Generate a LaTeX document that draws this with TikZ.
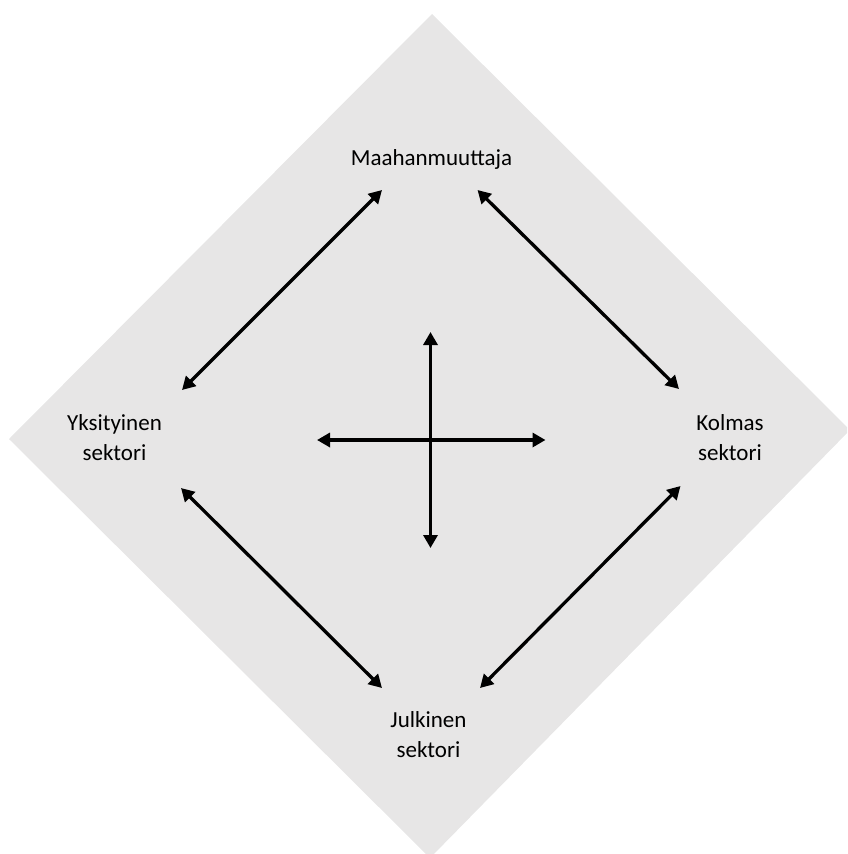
\documentclass[tikz,border=0pt]{standalone}
\usepackage{fontspec}
\setmainfont{Carlito}
\usetikzlibrary{arrows.meta}
\definecolor{bggray}{HTML}{E7E6E6}
\begin{document}
\begin{tikzpicture}[x=1pt,y=-1pt,
  lbl/.style={font=\fontsize{23}{29.5}\selectfont, align=center, inner sep=0pt, anchor=base, text=black},
  dbl/.style={line width=3.3pt, {Triangle[length=13pt,width=14pt]}-{Triangle[length=13pt,width=14pt]}}]
\useasboundingbox (0,0) rectangle (847,854);
\begin{scope}
\clip (0,0) rectangle (847,854);
\fill[bggray] (432,14) -- (850,430) -- (430,858) -- (9,439) -- cycle;
\end{scope}
\node[lbl] (maa) at (431.5,165) {Maahanmuuttaja};
\node[lbl] (yks) at (114.5,460) {Yksityinen\\sektori};
\node[lbl] (kol) at (730,460) {Kolmas\\sektori};
\node[lbl] (jul) at (428.5,757) {Julkinen\\sektori};
% arrow end points
\coordinate (ulA) at (182,390);
\coordinate (ulB) at (382,190);
\coordinate (urA) at (477.5,190);
\coordinate (urB) at (679,389);
\coordinate (llA) at (181,488);
\coordinate (llB) at (382,688);
\coordinate (lrA) at (680.5,486);
\coordinate (lrB) at (480,688);
\coordinate (vT) at (430.5,332);
\coordinate (vB) at (430.5,548);
\coordinate (hL) at (317,440);
\coordinate (hR) at (545.5,440);
\draw[dbl] (ulA) -- (ulB);
\draw[dbl] (urA) -- (urB);
\draw[dbl] (llA) -- (llB);
\draw[dbl] (lrA) -- (lrB);
\draw[dbl] (vT) -- (vB);
\draw[dbl] (hL) -- (hR);
\end{tikzpicture}
\end{document}
